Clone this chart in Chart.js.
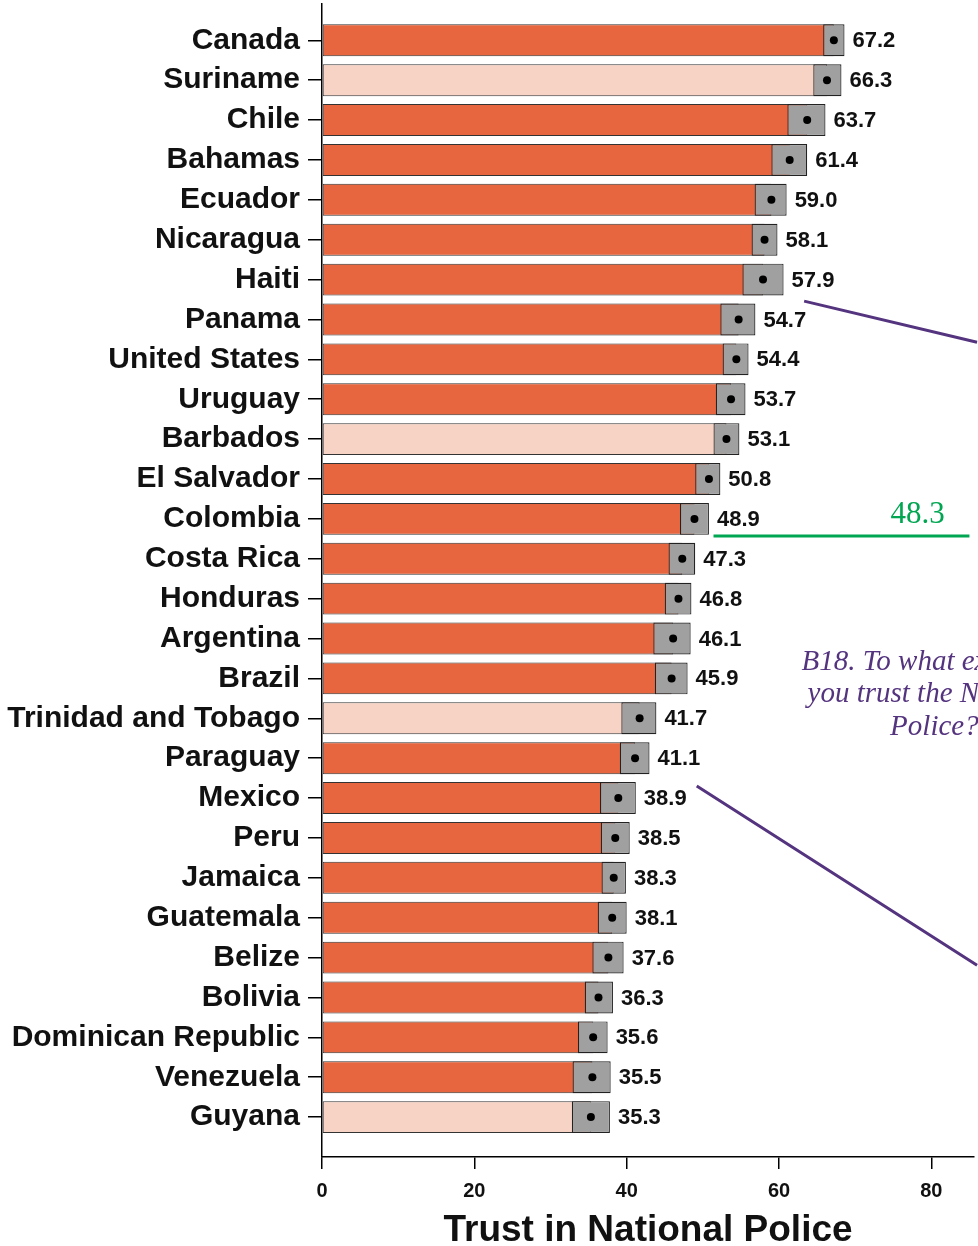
<!DOCTYPE html>
<html>
<head>
<meta charset="utf-8">
<script src="https://cdn.jsdelivr.net/npm/chart.js@4.4.1/dist/chart.umd.min.js"></script>
<style>
  html, body { margin: 0; padding: 0; background: #fff; }
  #wrap { width: 978px; height: 1246px; position: relative; }
</style>
</head>
<body>
<div id="wrap"><canvas id="trustChart"></canvas></div>
<script>
// values
const countries = ['Canada', 'Suriname', 'Chile', 'Bahamas', 'Ecuador', 'Nicaragua', 'Haiti',
  'Panama', 'United States', 'Uruguay', 'Barbados', 'El Salvador', 'Colombia', 'Costa Rica',
  'Honduras', 'Argentina', 'Brazil', 'Trinidad and Tobago', 'Paraguay', 'Mexico', 'Peru',
  'Jamaica', 'Guatemala', 'Belize', 'Bolivia', 'Dominican Republic', 'Venezuela', 'Guyana'];
const means = [67.2, 66.3, 63.7, 61.4, 59.0, 58.1, 57.9, 54.7, 54.4, 53.7, 53.1, 50.8, 48.9, 47.3,
  46.8, 46.1, 45.9, 41.7, 41.1, 38.9, 38.5, 38.3, 38.1, 37.6, 36.3, 35.6, 35.5, 35.3];
const ciLow = [65.8, 64.5, 61.1, 59.0, 56.8, 56.4, 55.2, 52.3, 52.6, 51.7, 51.4, 49.0, 47.0, 45.5,
  45.0, 43.5, 43.7, 39.3, 39.1, 36.5, 36.6, 36.7, 36.2, 35.5, 34.5, 33.6, 32.9, 32.8];
const ciHigh = [68.6, 68.2, 66.1, 63.7, 61.0, 59.8, 60.6, 56.9, 56.0, 55.6, 54.8, 52.3, 50.8, 49.0,
  48.5, 48.4, 48.0, 43.9, 43.0, 41.2, 40.4, 39.9, 40.0, 39.6, 38.2, 37.5, 37.9, 37.8];
const lightCountries = ['Suriname', 'Barbados', 'Trinidad and Tobago', 'Guyana'];
const xTicks = [0, 20, 40, 60, 80];
const regionAverage = 48.3;
const questionLines = ['B18. To what extent do', 'you trust the National', 'Police?'];

const ORANGE = '#E8663F';
const PINK = '#F7D3C6';
const GRAY = '#A0A0A0';
const GREEN = '#00A651';
const PURPLE = '#54337F';

const barColors = countries.map(c => lightCountries.includes(c) ? PINK : ORANGE);

// numbers at the end of the CI boxes + the notes on the right
const notesPlugin = {
    id: 'notes',
    afterDatasetsDraw(chart) {
        const ctx = chart.ctx;
        const xs = chart.scales.x;
        const ys = chart.scales.y;
        ctx.save();
        ctx.fillStyle = '#111';
        ctx.font = 'bold 22px "Liberation Sans", Arial, sans-serif';
        ctx.textAlign = 'left';
        ctx.textBaseline = 'middle';
        countries.forEach((c, i) => {
            ctx.fillText(means[i].toFixed(1), xs.getPixelForValue(ciHigh[i]) + 8, ys.getPixelForValue(i) + 1);
        });

        // regional average marker
        const gy = ys.getPixelForValue(12.43);
        ctx.strokeStyle = GREEN;
        ctx.lineWidth = 3;
        ctx.beginPath();
        ctx.moveTo(xs.getPixelForValue(51.4), gy);
        ctx.lineTo(xs.getPixelForValue(85.0), gy);
        ctx.stroke();
        ctx.fillStyle = GREEN;
        ctx.font = '31px "Liberation Serif", "Times New Roman", serif';
        ctx.textAlign = 'center';
        ctx.textBaseline = 'alphabetic';
        ctx.fillText(regionAverage.toFixed(1), xs.getPixelForValue(78.2), ys.getPixelForValue(12.1));

        // pointer lines
        ctx.strokeStyle = PURPLE;
        ctx.lineWidth = 3;
        ctx.beginPath();
        ctx.moveTo(xs.getPixelForValue(63.3), ys.getPixelForValue(6.54));
        ctx.lineTo(xs.getPixelForValue(86.0), ys.getPixelForValue(7.57));
        ctx.moveTo(xs.getPixelForValue(49.2), ys.getPixelForValue(18.70));
        ctx.lineTo(xs.getPixelForValue(86.0), ys.getPixelForValue(23.19));
        ctx.stroke();

        // question text
        ctx.fillStyle = PURPLE;
        ctx.font = 'italic 29px "Liberation Serif", "Times New Roman", serif';
        ctx.textAlign = 'center';
        ctx.textBaseline = 'middle';
        const qx = xs.getPixelForValue(80.4);
        const qy = ys.getPixelForValue(15.59);
        questionLines.forEach((t, k) => ctx.fillText(t, qx, qy + k * 32.5));
        ctx.restore();
    }
};

new Chart(document.getElementById('trustChart'), {
    type: 'bar',
    data: {
        datasets: [
            {
                type: 'scatter',
                data: means.map((m, i) => ({ x: m, y: i })),
                pointRadius: 4,
                pointBorderWidth: 0,
                pointBackgroundColor: '#000',
                order: 0
            },
            {
                data: countries.map((c, i) => ({ x: [ciLow[i], ciHigh[i]], y: i })),
                backgroundColor: GRAY,
                borderColor: '#222',
                borderWidth: 1.2,
                borderSkipped: false,
                grouped: false,
                barPercentage: 0.8,
                categoryPercentage: 1,
                order: 1
            },
            {
                data: means.map((m, i) => ({ x: m, y: i })),
                backgroundColor: barColors,
                borderColor: '#333',
                borderWidth: 1,
                borderSkipped: false,
                grouped: false,
                barPercentage: 0.8,
                categoryPercentage: 1,
                order: 2
            }
        ]
    },
    options: {
        indexAxis: 'y',
        responsive: true,
        maintainAspectRatio: false,
        animation: false,
        layout: { padding: 0 },
        plugins: {
            legend: { display: false },
            tooltip: { enabled: false }
        },
        scales: {
            x: {
                type: 'linear',
                min: 0,
                max: 85.6,
                afterBuildTicks: s => { s.ticks = xTicks.map(v => ({ value: v })); },
                afterFit: s => { s.height = 89; },
                grid: { drawOnChartArea: false, drawTicks: true, tickLength: 12, color: '#000', lineWidth: 1.5 },
                border: { display: true, color: '#000', width: 1.5 },
                ticks: {
                    color: '#111',
                    padding: 10,
                    font: { family: '"Liberation Sans", Arial, sans-serif', size: 20, weight: 'bold' }
                },
                title: {
                    display: true,
                    text: 'Trust in National Police',
                    color: '#111',
                    padding: { top: 0, bottom: 0 },
                    font: { family: '"Liberation Sans", Arial, sans-serif', size: 37, weight: 'bold', lineHeight: 0.8 }
                }
            },
            y: {
                type: 'linear',
                reverse: true,
                offset: false,
                min: -0.91,
                max: 28,
                afterBuildTicks: s => { s.ticks = countries.map((c, i) => ({ value: i })); },
                afterFit: s => { s.width = 322; s.paddingTop = 0; s.paddingBottom = 0; },
                grid: { offset: false, drawOnChartArea: false, drawTicks: true, tickLength: 14, color: '#000', lineWidth: 1.5 },
                border: { display: true, color: '#000', width: 1.5 },
                ticks: {
                    color: '#111',
                    padding: 8,
                    autoSkip: false,
                    callback: v => countries[v],
                    font: { family: '"Liberation Sans", Arial, sans-serif', size: 30, weight: 'bold' }
                }
            }
        }
    },
    plugins: [notesPlugin]
});
</script>
</body>
</html>
